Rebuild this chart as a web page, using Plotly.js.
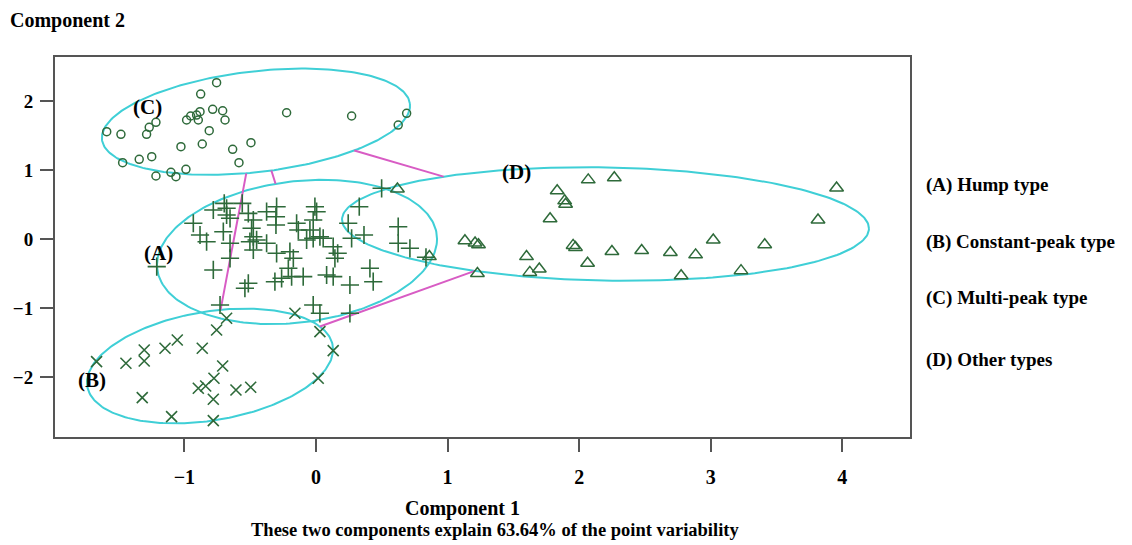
<!DOCTYPE html>
<html><head><meta charset="utf-8">
<script src="https://cdn.plot.ly/plotly-3.0.1.min.js"></script>
<style>html,body{margin:0;padding:0;background:#fff}#chart{width:1132px;height:545px}</style>
</head><body><div id="chart"></div>
<script>
// ---- data (Component 1, Component 2) ----
const typeA_x = [0.499,-0.697,-0.560,-0.780,-0.679,-0.679,-0.653,-0.514,-0.476,-0.375,-0.299,-0.304,-0.304,-0.008,0.005,-0.021,-0.147,-0.134,-0.046,0.329,0.245,0.271,0.365,0.625,0.625,0.714,0.836,-0.932,-0.881,-0.831,-0.704,-0.653,-0.653,-0.489,-0.476,-0.451,-0.502,-0.476,-0.375,-0.299,-0.198,-0.172,-0.210,-0.185,-0.097,-0.261,-0.312,-0.514,-0.540,-0.780,-1.210,-0.021,0.030,0.055,-0.071,0.131,0.165,0.144,0.081,0.131,0.258,0.410,0.435,-0.729,-0.021,0.030,0.258];
const typeA_y = [0.735,0.517,0.517,0.420,0.445,0.348,0.300,0.372,0.275,0.396,0.468,0.323,0.203,0.468,0.396,0.275,0.228,0.130,0.130,0.468,0.228,0.010,0.058,0.178,-0.062,-0.135,-0.265,0.228,0.058,-0.039,0.106,-0.062,-0.280,0.155,0.033,-0.014,-0.039,-0.159,-0.062,-0.207,-0.184,-0.280,-0.425,-0.546,-0.546,-0.570,-0.619,-0.642,-0.714,-0.449,-0.401,0.010,0.033,0.010,-0.014,-0.112,-0.207,-0.280,-0.522,-0.546,-0.667,-0.425,-0.619,-0.957,-0.957,-1.077,-1.077];
const typeB_x = [-1.667,-1.444,-1.305,-1.305,-1.147,-1.054,-0.864,-0.755,-0.679,-0.709,-0.775,-0.838,-0.894,-0.780,-0.780,-1.097,-1.320,-0.608,-0.496,0.030,0.131,0.017,-0.160];
const typeB_y = [-1.778,-1.801,-1.609,-1.768,-1.584,-1.464,-1.584,-1.319,-1.149,-1.841,-2.019,-2.130,-2.164,-2.323,-2.633,-2.575,-2.300,-2.188,-2.149,-1.343,-1.619,-2.019,-1.077];
const typeC_x = [-0.755,-0.876,-1.590,-1.482,-1.216,-1.267,-1.287,-0.983,-0.952,-0.907,-0.881,-0.894,-0.785,-0.709,-0.691,-0.811,-0.864,-1.026,-1.248,-1.343,-1.469,-1.216,-1.102,-1.064,-0.988,-0.633,-0.494,-0.585,-0.223,0.271,0.625,0.689];
const typeC_y = [2.265,2.101,1.555,1.517,1.691,1.619,1.517,1.725,1.783,1.797,1.845,1.725,1.880,1.859,1.725,1.570,1.377,1.338,1.193,1.155,1.106,0.913,0.967,0.903,1.010,1.300,1.396,1.106,1.830,1.783,1.652,1.822];
const typeD_x = [0.619,2.069,2.267,1.833,1.890,1.897,1.779,3.956,3.815,1.132,1.209,1.235,0.862,1.227,1.600,1.625,1.697,1.954,1.972,2.064,2.249,2.475,2.693,2.885,3.019,2.775,3.230,3.410];
const typeD_y = [0.725,0.857,0.887,0.700,0.553,0.504,0.294,0.739,0.275,-0.025,-0.058,-0.083,-0.255,-0.499,-0.255,-0.484,-0.436,-0.093,-0.122,-0.352,-0.181,-0.167,-0.196,-0.230,-0.015,-0.533,-0.459,-0.083];

const clusterNames = ['(A)','(B)','(C)','(D)'];
const legendLabels = ['(A) Hump type','(B) Constant-peak type','(C) Multi-peak type','(D) Other types'];
// cluster ellipses: centre and two conjugate semi-diameters (data units)
const ellCenterX = [-0.144,-0.805,-0.456,2.200];
const ellCenterY = [-0.188,-1.841,1.700,0.217];
const ellU = [[1.064,0.188],[0.935,0.239],[1.170,0.261],[2.002,-0.065]];
const ellV = [[0,1.029],[0,0.797],[-0.046,0.725],[0,0.820]];
const labelX = [-1.20,-1.70,-1.277,1.527];
const labelY = [-0.20,-2.04,1.913,0.971];
const xTickVals = [-1,0,1,2,3,4];
const xTickText = ['\u22121','0','1','2','3','4'];
const yTickVals = [-2,-1,0,1,2];
const yTickText = ['\u22122','\u22121','0','1','2'];
const xTitle = 'Component 1';
const xSubtitle = 'These two components explain 63.64% of the point variability';
const yTitle = 'Component 2';

const ptColor = '#2e6a3a';
const ellColor = '#3fcfd6';
const linkColor = '#d85cc4';
const serif = 'Liberation Serif, Times New Roman, serif';

const traces = [];
for (let k = 0; k < 4; k++) {
  const xs = [], ys = [];
  for (let i = 0; i <= 240; i++) {
    const t = 2 * Math.PI * i / 240;
    xs.push(ellCenterX[k] + Math.cos(t) * ellU[k][0] + Math.sin(t) * ellV[k][0]);
    ys.push(ellCenterY[k] + Math.cos(t) * ellU[k][1] + Math.sin(t) * ellV[k][1]);
  }
  traces.push({x: xs, y: ys, mode: 'lines', line: {color: ellColor, width: 2}, hoverinfo: 'skip', showlegend: false});
}
function norm(k, dx, dy) {
  const a = ellU[k][0], b = ellV[k][0], c = ellU[k][1], d = ellV[k][1];
  const det = a * d - b * c;
  const al = (d * dx - b * dy) / det, be = (-c * dx + a * dy) / det;
  return Math.hypot(al, be);
}
for (let i = 0; i < 4; i++) for (let j = i + 1; j < 4; j++) {
  const dx = ellCenterX[j] - ellCenterX[i], dy = ellCenterY[j] - ellCenterY[i];
  const t1 = 1 / norm(i, dx, dy), t2 = 1 - 1 / norm(j, dx, dy);
  if (t1 < t2) {
    traces.push({x: [ellCenterX[i] + t1 * dx, ellCenterX[i] + t2 * dx], y: [ellCenterY[i] + t1 * dy, ellCenterY[i] + t2 * dy],
      mode: 'lines', line: {color: linkColor, width: 2}, hoverinfo: 'skip', showlegend: false});
  }
}
traces.push({x: typeA_x, y: typeA_y, mode: 'markers', marker: {symbol: 'cross-thin-open', size: 13, color: ptColor, line: {color: ptColor, width: 1.6}}, showlegend: false});
traces.push({x: typeB_x, y: typeB_y, mode: 'markers', marker: {symbol: 'x-thin-open', size: 11, color: ptColor, line: {color: ptColor, width: 1.6}}, showlegend: false});
traces.push({x: typeC_x, y: typeC_y, mode: 'markers', marker: {symbol: 'circle-open', size: 8, color: ptColor, line: {color: ptColor, width: 1.5}}, showlegend: false});
traces.push({x: typeD_x, y: typeD_y, mode: 'markers', marker: {symbol: 'triangle-up-open', size: 12, color: ptColor, line: {color: ptColor, width: 1.5}}, showlegend: false});

const annotations = [];
for (let k = 0; k < 4; k++) {
  annotations.push({x: labelX[k], y: labelY[k], xref: 'x', yref: 'y', text: clusterNames[k], showarrow: false,
    font: {family: serif, size: 21, color: '#000', weight: 'bold'}});
}
const legendPy = [185, 242, 298, 360];
for (let k = 0; k < 4; k++) {
  annotations.push({xref: 'paper', yref: 'paper', x: (924 - 55) / 855, y: (437 - legendPy[k]) / 380, xanchor: 'left', yanchor: 'middle',
    text: legendLabels[k], showarrow: false, font: {family: serif, size: 19, color: '#000', weight: 'bold'}});
}
annotations.push({xref: 'paper', yref: 'paper', x: (8 - 55) / 855, y: (437 - 20) / 380, xanchor: 'left', yanchor: 'middle',
  text: yTitle, showarrow: false, font: {family: serif, size: 20, color: '#000', weight: 'bold'}});
annotations.push({xref: 'paper', yref: 'paper', x: (462 - 55) / 855, y: (437 - 508) / 380, xanchor: 'center', yanchor: 'middle',
  text: xTitle, showarrow: false, font: {family: serif, size: 20, color: '#000', weight: 'bold'}});
annotations.push({xref: 'paper', yref: 'paper', x: (495 - 55) / 855, y: (437 - 530) / 380, xanchor: 'center', yanchor: 'middle',
  text: xSubtitle, showarrow: false, font: {family: serif, size: 18.5, color: '#000', weight: 'bold'}});

const layout = {
  width: 1132, height: 545,
  margin: {l: 55, r: 222, t: 57, b: 108},
  paper_bgcolor: '#fff', plot_bgcolor: '#fff',
  font: {family: serif, size: 17, color: '#000', weight: 'bold'},
  showlegend: false,
  xaxis: {range: [-1.983, 4.514], tickvals: xTickVals, ticktext: xTickText, ticks: 'outside', ticklen: 13, tickwidth: 2, tickcolor: '#555',
    showline: true, mirror: true, linecolor: '#555', linewidth: 2, showgrid: false, zeroline: false, ticklabelstandoff: 8,
    tickfont: {family: serif, size: 20, weight: 'bold'}},
  yaxis: {range: [-2.870, 2.638], tickvals: yTickVals, ticktext: yTickText, ticks: 'outside', ticklen: 13, tickwidth: 2, tickcolor: '#555',
    showline: true, mirror: true, linecolor: '#555', linewidth: 2, showgrid: false, zeroline: false, ticklabelstandoff: 3,
    tickfont: {family: serif, size: 19, weight: 'bold'}},
  annotations: annotations
};
Plotly.newPlot('chart', traces, layout, {displayModeBar: false, staticPlot: true});
</script></body></html>
